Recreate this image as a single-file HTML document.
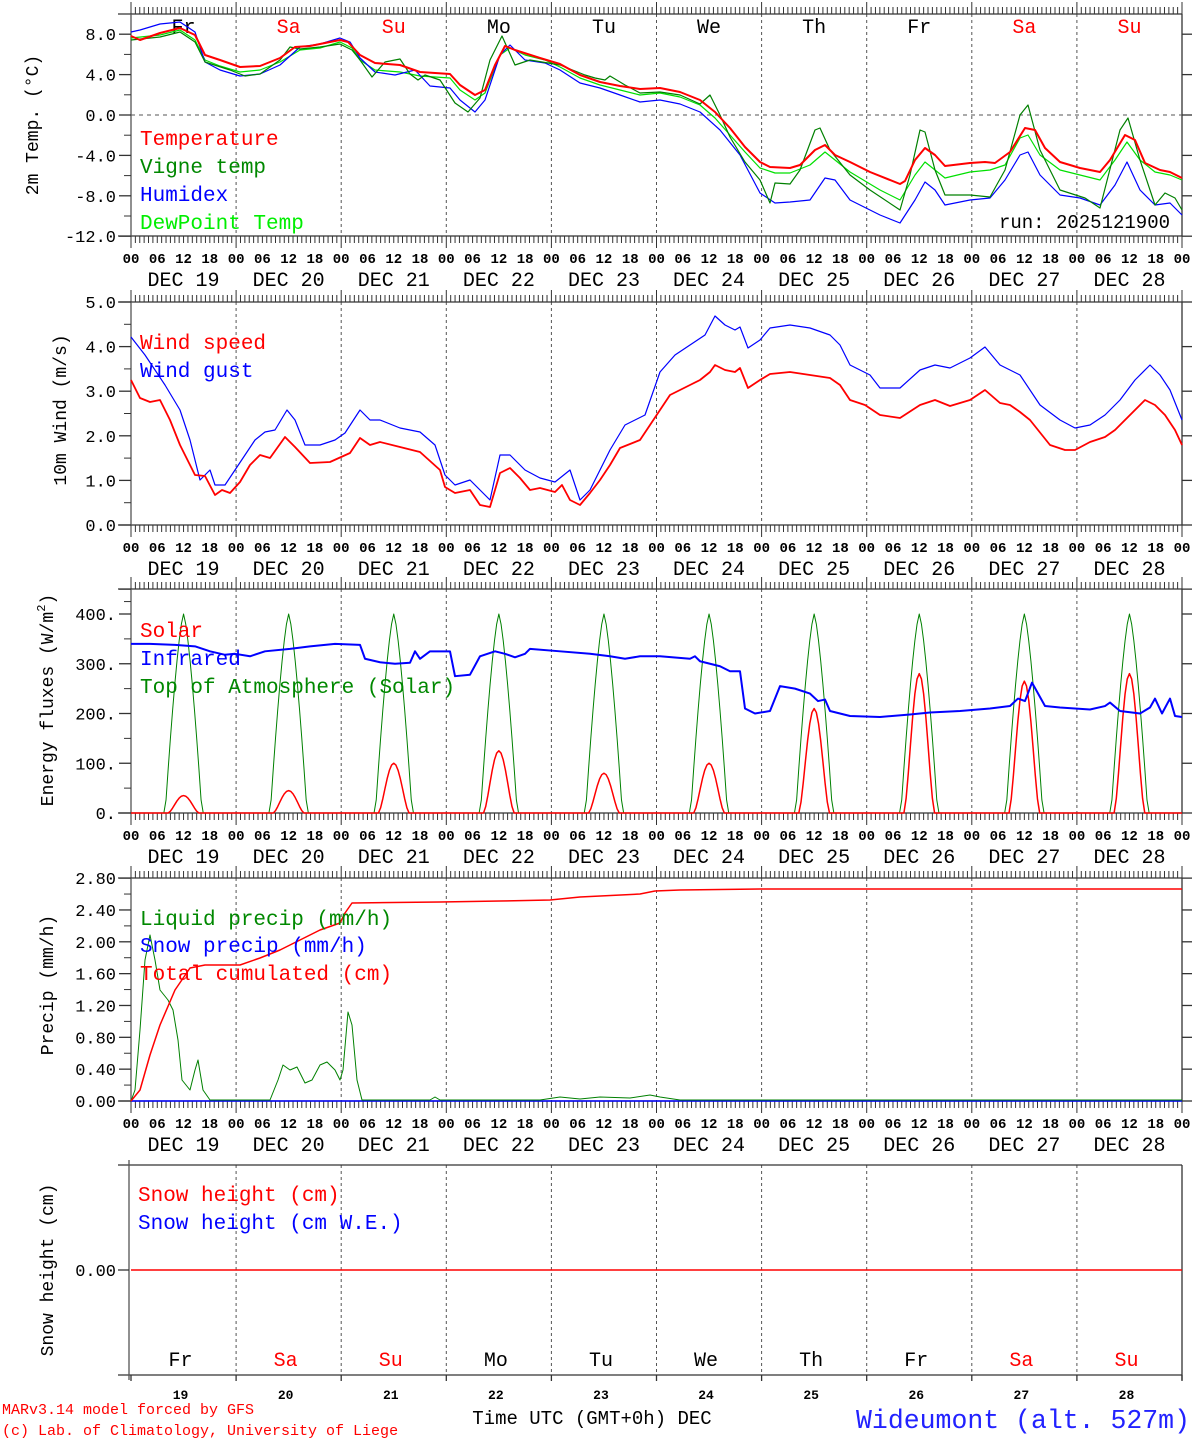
<!DOCTYPE html>
<html><head><meta charset="utf-8"><style>
html,body{margin:0;padding:0;background:#fff;}
svg{display:block;}
text{font-family:"Liberation Mono","DejaVu Sans Mono",monospace;}
</style></head><body>
<svg id="s" width="1194" height="1440" xmlns="http://www.w3.org/2000/svg"></svg>
<script>
const S=document.getElementById('s');let o='';
const X0=131,X1=1182,DW=(X1-X0)/10;
const hx=h=>X0+h*(X1-X0)/240;
function L(x1,y1,x2,y2,c,w,d){o+=`<line x1="${x1}" y1="${y1}" x2="${x2}" y2="${y2}" stroke="${c||'#000'}" stroke-width="${w||1}"${d?` stroke-dasharray="${d}"`:''}/>`;}
function T(x,y,t,sz,c,a,extra){o+=`<text x="${x}" y="${y}" font-size="${sz}" fill="${c||'#000'}" text-anchor="${a||'start'}" ${extra||''}>${t}</text>`;}
function P(pts,c,w){o+=`<polyline fill="none" stroke="${c}" stroke-width="${w}" stroke-linejoin="round" points="${pts.map(p=>p[0]+','+p[1]).join(' ')}"/>`;}
function pairs(a){const r=[];for(let i=0;i<a.length;i+=2)r.push([a[i],a[i+1]]);return r;}
const days=['Fr','Sa','Su','Mo','Tu','We','Th','Fr','Sa','Su'];
const dcol=d=>(d=='Sa'||d=='Su')?'#f00':'#000';
function panel(top,bot,yt,ylab,ylabY){
  for(let d=1;d<10;d++)L(X0+d*DW,top,X0+d*DW,bot,'#555',1,'3,3');
  L(118,top,X1,top,'#333',1.3);L(118,bot,X1,bot,'#333',1.3);
  L(X0,top,X0,bot,'#555',1.3);L(X1,top,X1,bot,'#333',1.3);
  for(let h=0;h<=240;h++){const x=hx(h),big=h%24==0;
    L(x,top-(big?12:7),x,top,'#333',1);L(x,bot,x,bot+(big?12:7),'#333',1);}
  yt.forEach(t=>{L(119,t[0],X0,t[0],'#333',1.3);L(X1,t[0],1192,t[0],'#333',1.3);if(t[1])T(116,t[0]+6,t[1],17,'#000','end');});
  for(let i=0;i<yt.length-1;i++){const m=(yt[i][0]+yt[i+1][0])/2;L(124,m,X0,m,'#333',1);}
  for(let h=0;h<=240;h+=6)T(hx(h),bot+27,String(h%24).padStart(2,'0'),14,'#000','middle','font-weight="bold"');
  for(let d=0;d<10;d++)T(X0+d*DW+DW/2,bot+50,'DEC '+(19+d),20,'#000','middle');
  o+=`<text transform="translate(${ylabY[0]},${ylabY[1]}) rotate(-90)" font-size="18" text-anchor="middle" fill="#000">${ylab}</text>`;
}
// Panel 1
const p1=v=>115-10.1*v;
panel(14,236,[[34,'8.0'],[74,'4.0'],[115,'0.0'],[155,'-4.0'],[196,'-8.0'],[236,'-12.0']].map(a=>[p1(parseFloat(a[1])),a[1]]),'2m Temp. (°C)',[38,125]);
L(X0,115,X1,115,'#555',1,'4,4');
days.forEach((d,i)=>T(X0+i*DW+DW/2,33,d,20,dcol(d),'middle'));
const dew=pairs([131,38,160,35,180,30,195,40,205,60,220,66,240,72,260,70,280,62,300,50,320,48,340,42,352,48,360,60,375,70,400,72,420,76,450,78,460,90,475,100,485,93,500,55,510,48,525,55,545,60,560,67,580,78,600,85,620,90,640,95,660,93,680,97,700,105,715,118,730,135,745,152,760,168,775,173,790,173,810,165,825,152,835,160,850,172,880,190,900,200,915,175,925,162,935,170,945,178,970,172,990,170,1005,165,1020,138,1028,135,1040,155,1060,170,1080,175,1100,180,1115,160,1127,142,1140,160,1155,172,1170,175,1182,180]);
const hum=pairs([131,32,140,30,160,24,180,22,195,32,205,62,220,70,240,76,260,74,280,65,300,47,320,44,340,38,350,42,360,58,375,72,395,75,415,70,430,86,450,88,460,100,475,112,485,100,500,55,510,45,525,60,545,63,560,70,580,83,600,88,620,95,640,102,660,100,680,104,700,112,720,130,740,155,760,193,775,203,790,202,810,200,825,178,835,180,850,200,880,215,900,223,915,200,925,182,935,190,945,205,970,200,990,198,1005,180,1020,155,1028,152,1040,175,1060,195,1080,198,1100,205,1115,185,1127,162,1140,190,1155,205,1170,203,1182,215]);
const vig=pairs([131,40,160,37,180,32,195,42,205,62,230,70,245,76,260,74,280,60,290,47,300,49,320,47,340,44,352,50,360,60,372,77,385,62,400,59,410,74,418,80,425,75,440,80,455,103,468,112,480,98,490,60,502,36,515,65,530,60,560,65,585,75,595,78,605,80,610,76,625,85,640,93,660,92,680,95,700,104,710,95,720,115,730,137,745,162,760,180,770,203,775,183,790,184,800,170,815,130,820,128,830,150,850,175,870,190,900,210,910,175,920,130,925,132,935,170,945,195,970,195,990,197,1005,170,1020,115,1028,105,1040,150,1060,190,1085,198,1100,208,1120,130,1128,118,1140,160,1155,205,1165,193,1175,198,1182,210]);
const tmp=pairs([131,36,140,40,160,33,180,28,195,35,205,55,220,60,240,67,260,66,280,58,295,47,310,46,320,44,340,40,348,42,360,55,375,63,400,65,420,72,450,74,460,85,475,95,485,90,495,65,505,46,515,50,540,58,560,64,580,75,600,82,620,86,640,89,660,88,680,92,700,100,715,112,730,128,745,147,760,162,770,167,790,168,800,165,815,150,825,145,835,155,850,162,870,172,900,184,905,181,915,160,925,148,935,155,945,166,970,163,985,162,995,163,1010,152,1025,128,1035,130,1045,148,1060,162,1080,168,1100,172,1110,160,1125,135,1135,140,1145,163,1160,170,1170,172,1182,178]);
P(dew,'#00e000',1.2);P(hum,'#0000ff',1.2);P(vig,'#008000',1.2);P(tmp,'#ff0000',2);
T(140,145,'Temperature',21,'#f00');T(140,173,'Vigne temp',21,'#080');T(140,201,'Humidex',21,'#00f');T(140,229,'DewPoint Temp',21,'#0e0');
T(1170,228,'run: 2025121900',19,'#000','end');
// Panel 2
const p2=v=>525-44.6*v;
panel(302,525,['5.0','4.0','3.0','2.0','1.0','0.0'].map(a=>[p2(parseFloat(a)),a]),'10m Wind (m/s)',[66,410]);
const gust=pairs([131,337,145,355,165,385,180,410,190,440,200,480,210,470,215,485,225,485,235,470,245,455,255,440,265,432,275,430,287,410,295,420,305,445,320,445,335,440,345,433,360,410,370,420,380,420,400,428,420,432,435,445,445,475,455,485,470,480,480,490,490,500,500,455,510,455,525,470,540,478,555,482,570,470,580,500,590,490,600,470,610,450,625,425,645,415,660,372,675,355,690,345,705,335,715,316,725,325,735,330,740,327,748,348,760,340,770,328,790,325,810,328,830,335,840,345,850,365,870,375,880,388,900,388,920,370,935,365,950,368,970,358,985,347,1000,365,1020,375,1040,405,1060,420,1075,428,1090,425,1105,415,1120,400,1135,380,1150,365,1160,375,1170,390,1182,420]);
const spd=pairs([131,380,140,398,150,402,160,400,170,420,180,445,195,475,205,476,215,495,222,490,230,493,240,482,250,465,260,455,270,458,285,437,295,447,310,463,330,462,350,453,360,438,370,445,380,442,400,447,420,452,440,470,445,487,455,493,470,490,480,505,490,507,500,473,510,468,520,478,530,490,540,488,555,492,562,485,570,500,580,505,590,493,600,480,610,465,620,448,640,440,660,410,670,395,680,390,690,385,700,380,710,372,715,365,725,370,735,372,740,368,748,388,760,380,770,374,790,372,810,375,830,378,840,385,850,400,865,405,880,415,900,418,920,405,935,400,950,406,970,400,985,390,1000,403,1010,405,1020,412,1030,420,1050,445,1065,450,1075,450,1090,442,1105,437,1115,430,1130,415,1145,400,1155,405,1165,415,1175,430,1182,445]);
P(gust,'#0000ff',1.2);P(spd,'#ff0000',1.8);
T(140,349,'Wind speed',21,'#f00');T(140,377,'Wind gust',21,'#00f');
// Panel 3
const p3=v=>813-0.4975*v;
panel(589,813,[[p3(450),''],[p3(400),'400.'],[p3(300),'300.'],[p3(200),'200.'],[p3(100),'100.'],[p3(0),'0.']],'Energy fluxes (W/m<tspan dy="-8" font-size="12">2</tspan><tspan dy="8">)</tspan>',[53,700]);
let toa=[],sol=[];const peaks=[35,45,100,125,80,100,210,280,265,280];
for(let d=0;d<10;d++){for(let h=0;h<24;h+=0.5){const t=d*24+h;
  let v=0;if(h>7.8&&h<16.2){const u=Math.abs(h-12)/4.2;v=400*(1-Math.pow(u,1.4));}toa.push([hx(t),p3(Math.max(0,v))]);
  let s=0;if(h>8.5&&h<15.5)s=peaks[d]*Math.pow(Math.sin(Math.PI*(h-8.5)/7),1.5);sol.push([hx(t),p3(s)]);}}
toa.push([X1,813]);sol.push([X1,813]);
P(toa,'#008000',1);P(sol,'#ff0000',1.5);
const ir=pairs([131,340,150,340,175,338,195,335,210,325,225,318,235,320,250,315,265,325,290,330,310,335,335,340,360,338,365,310,380,303,395,300,410,302,415,325,420,310,430,325,450,325,455,275,470,278,480,315,495,325,505,320,515,313,525,320,530,330,560,325,590,320,610,315,625,310,640,315,660,315,690,310,695,315,700,305,720,295,730,285,740,285,745,210,755,200,770,205,780,255,795,250,810,240,818,225,825,228,830,205,850,195,880,193,910,198,930,202,960,205,990,210,1010,215,1018,230,1025,225,1032,262,1045,215,1060,212,1090,208,1105,215,1110,222,1120,205,1140,200,1150,212,1155,230,1162,200,1170,230,1175,195,1182,193]).map(p=>[p[0],p3(p[1])]);
P(ir,'#0000ff',2);
T(140,637,'Solar',21,'#f00');T(140,665,'Infrared',21,'#00f');T(140,693,'Top of Atmosphere (Solar)',21,'#080');
// Panel 4
const p4=v=>1101-79.6*v;
panel(878,1101,['2.80','2.40','2.00','1.60','1.20','0.80','0.40','0.00'].map(a=>[p4(parseFloat(a)),a]),'Precip (mm/h)',[53,985]);
P([[131,1101],[1182,1101]],'#0000ff',1.5);
const liq=pairs([131,1101,135,1090,140,1030,145,960,150,935,155,960,160,990,168,1000,173,1010,178,1040,182,1080,190,1090,195,1070,198,1060,203,1090,210,1100,270,1100,278,1080,283,1065,290,1070,297,1067,305,1083,312,1080,320,1065,327,1062,335,1070,340,1080,343,1070,348,1012,352,1025,357,1080,362,1100,430,1100,435,1097,440,1100,540,1100,560,1097,580,1099,600,1097,630,1098,650,1095,660,1097,680,1100,730,1100,1182,1100]);
P(liq,'#008000',1);
const cum=pairs([131,1101,140,1090,150,1055,160,1025,175,990,190,968,205,965,240,965,260,958,280,950,300,940,320,930,340,923,345,913,352,903,440,902,500,901,550,900,580,897,640,894,655,891,680,890,760,889,1182,889]);
P(cum,'#ff0000',1.5);
T(140,925,'Liquid precip (mm/h)',21,'#080');T(140,952,'Snow precip (mm/h)',21,'#00f');T(140,980,'Total cumulated (cm)',21,'#f00');
// Panel 5
for(let d=1;d<10;d++)L(X0+d*DW,1165,X0+d*DW,1375,'#555',1,'3,3');
L(118,1165,X1,1165,'#333',1.3);L(118,1375,X1,1375,'#333',1.3);
L(129,1160,129,1380,'#555',1.3);L(X1,1165,X1,1380,'#333',1.3);
for(let d=0;d<=10;d++)L(X0+d*DW,1375,X0+d*DW,1381,'#333',1.3);
L(118,1270,129,1270,'#333',1.3);T(116,1276,'0.00',17,'#000','end');
L(131,1270,X1,1270,'#ff0000',1.5);
o+=`<text transform="translate(53,1270) rotate(-90)" font-size="18" text-anchor="middle">Snow height (cm)</text>`;
T(138,1201,'Snow height (cm)',21,'#f00');T(138,1229,'Snow height (cm W.E.)',21,'#00f');
days.forEach((d,i)=>{T(X0+i*DW+DW/2-3,1366,d,20,dcol(d),'middle');T(X0+i*DW+DW/2-3,1399,String(19+i),13,'#000','middle','font-weight="bold"');});
T(592,1424,'Time UTC (GMT+0h) DEC',19,'#000','middle');
T(1190,1428,'Wideumont (alt. 527m)',26.5,'#2222ff','end');
T(2,1414,'MARv3.14 model forced by GFS',15,'#f00');T(2,1435,'(c) Lab. of Climatology, University of Liege',15,'#f00');
S.innerHTML=o;
</script>
</body></html>
